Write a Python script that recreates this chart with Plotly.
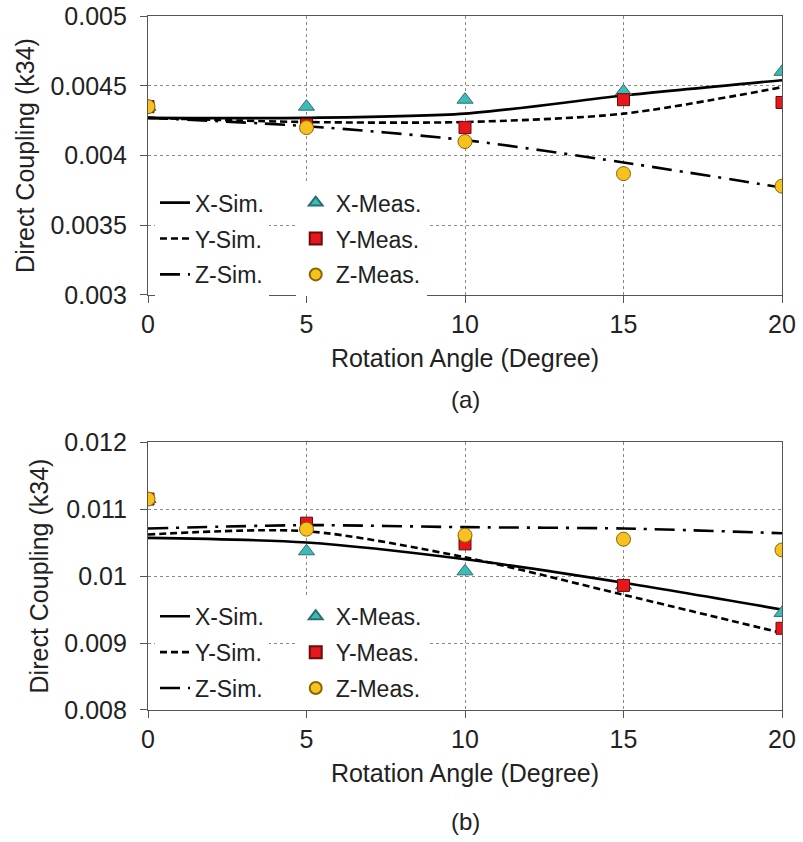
import plotly.graph_objects as go
from plotly.subplots import make_subplots

# ---------------- data ----------------
angles = [0, 5, 10, 15, 20]

# (a)
a_x_sim = [0.00427, 0.00427, 0.00430, 0.00443, 0.00454]
a_y_sim = [0.00427, 0.00424, 0.00424, 0.00430, 0.00449]
a_z_sim = [0.00427, 0.00421, 0.00411, 0.00395, 0.00377]
a_x_meas = [0.00435, 0.00435, 0.00440, 0.00446, 0.00460]
a_y_meas = [0.00435, 0.00422, 0.00420, 0.00440, 0.00438]
a_z_meas = [0.00435, 0.00420, 0.00410, 0.00387, 0.00378]

# (b)
b_x_sim = [0.01057, 0.01050, 0.01025, 0.00990, 0.00950]
b_y_sim = [0.01062, 0.01067, 0.01028, 0.00972, 0.00915]
b_z_sim = [0.01071, 0.01076, 0.01073, 0.01071, 0.01064]
b_x_meas = [0.01115, 0.01037, 0.01007, 0.00986, 0.00945]
b_y_meas = [0.01115, 0.01079, 0.01048, 0.00986, 0.00922]
b_z_meas = [0.01115, 0.01070, 0.01061, 0.01055, 0.01039]

sim_names = ["X-Sim.", "Y-Sim.", "Z-Sim."]
meas_names = ["X-Meas.", "Y-Meas.", "Z-Meas."]
x_ticks = [0, 5, 10, 15, 20]
a_yticks = [0.003, 0.0035, 0.004, 0.0045, 0.005]
a_yticklabels = ["0.003", "0.0035", "0.004", "0.0045", "0.005"]
b_yticks = [0.008, 0.009, 0.010, 0.011, 0.012]
b_yticklabels = ["0.008", "0.009", "0.01", "0.011", "0.012"]
x_title = "Rotation Angle (Degree)"
y_title = "Direct Coupling (k34)"
panel_labels = ["(a)", "(b)"]

# ---------------- styles ----------------
FONT = "Liberation Sans, Arial, sans-serif"
TXT = "#222222"
line_dashes = ["solid", "7px,4px", "20px,8px,3px,8px"]
m_symbols = ["triangle-up", "square", "circle"]
m_colors = ["#3cbcb8", "#e5161c", "#f7c21f"]
m_lines = ["#2b6f70", "#6b0b0b", "#8a6400"]
m_sizes = [14, 12, 14]

fig = make_subplots(rows=2, cols=1, vertical_spacing=0.212)

panels = [
    (1, [a_x_sim, a_y_sim, a_z_sim], [a_x_meas, a_y_meas, a_z_meas], "legend", "legend2"),
    (2, [b_x_sim, b_y_sim, b_z_sim], [b_x_meas, b_y_meas, b_z_meas], "legend3", "legend4"),
]
for row, sims, meas, lg1, lg2 in panels:
    for i in range(3):
        fig.add_trace(go.Scatter(
            x=angles, y=sims[i], mode="lines", name=sim_names[i],
            line=dict(color="black", width=2.6, dash=line_dashes[i], shape="spline", smoothing=0.8),
            legend=lg1, legendgroup=f"{lg1}{i}"), row=row, col=1)
    for i in range(3):
        fig.add_trace(go.Scatter(
            x=angles, y=meas[i], mode="markers", name=meas_names[i],
            marker=dict(symbol=m_symbols[i], color=m_colors[i], size=m_sizes[i],
                        line=dict(color=m_lines[i], width=1)),
            legend=lg2, legendgroup=f"{lg2}{i}"), row=row, col=1)

axis_common = dict(
    showline=True, linecolor="#555555", linewidth=1.2, mirror=True,
    showgrid=True, gridcolor="#8a8a8a", griddash="dot", gridwidth=1,
    ticks="outside", ticklen=7, tickcolor="#555555", automargin=False,
    tickfont=dict(family=FONT, size=25, color=TXT), zeroline=False,
)
for r in (1, 2):
    fig.update_xaxes(range=[0, 20], tickvals=x_ticks, row=r, col=1,
                     title=dict(text=x_title, font=dict(family=FONT, size=25, color=TXT), standoff=12),
                     **axis_common)
fig.update_yaxes(range=[0.003, 0.005], tickvals=a_yticks, ticktext=a_yticklabels, row=1, col=1,
                 title=dict(text=y_title, font=dict(family=FONT, size=25, color=TXT), standoff=8),
                 ticklabelstandoff=8, **axis_common)
fig.update_yaxes(range=[0.008, 0.012], tickvals=b_yticks, ticktext=b_yticklabels, row=2, col=1,
                 title=dict(text=y_title, font=dict(family=FONT, size=25, color=TXT), standoff=8),
                 ticklabelstandoff=8, **axis_common)

fig.update_layout(
    xaxis=dict(domain=[0, 1]), yaxis=dict(domain=[0.598, 1.0]),
    xaxis2=dict(domain=[0, 1]), yaxis2=dict(domain=[0.0, 0.386]),
)

leg_common = dict(bgcolor="white", borderwidth=0, tracegroupgap=3,
                  font=dict(family=FONT, size=23, color=TXT),
                  xanchor="left", yanchor="top", itemclick=False, itemdoubleclick=False)
sim_leg = dict(itemsizing="trace", **leg_common)
meas_leg = dict(itemsizing="constant", **leg_common)
fig.update_layout(
    legend=dict(x=0.011, y=0.762, **sim_leg),
    legend2=dict(x=0.233, y=0.762, **meas_leg),
    legend3=dict(x=0.011, y=0.166, **sim_leg),
    legend4=dict(x=0.233, y=0.166, **meas_leg),
)

for lbl, yy in zip(panel_labels, [0.447, -0.161]):
    fig.add_annotation(text=lbl, x=0.5, y=yy, xref="paper", yref="paper", showarrow=False,
                       font=dict(family=FONT, size=24, color=TXT), xanchor="center", yanchor="middle")

fig.update_layout(
    width=803, height=842, margin=dict(l=148, r=21, t=16, b=132, autoexpand=False),
    paper_bgcolor="white", plot_bgcolor="white", showlegend=True,
)

fig.write_html("out.html")
